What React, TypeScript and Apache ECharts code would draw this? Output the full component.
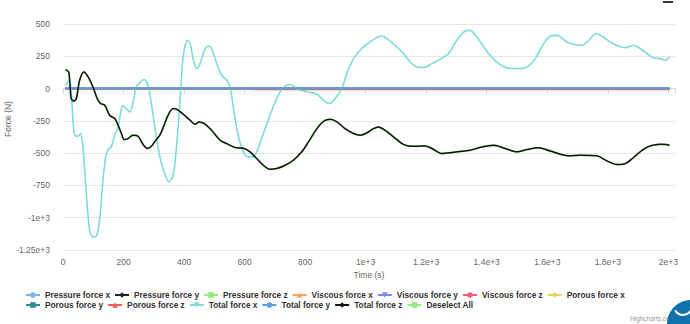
import React, { useEffect, useRef } from "react";
import * as echarts from "echarts";

// ---- data ----
const totalXTime = [8, 22, 33, 39, 50, 58, 66, 77, 88, 99, 110, 121, 132, 141, 149, 160, 171, 182, 191, 198, 209, 220, 231, 242, 257, 268, 279, 292, 305, 320, 334, 350, 364, 375, 386, 397, 411, 420, 431, 442, 453, 467, 480, 491, 508, 524, 541, 552, 566, 580, 596, 613, 629, 640, 662, 690, 717, 734, 750, 765, 783, 811, 839, 861, 880, 899, 921, 938, 960, 987, 1009, 1031, 1053, 1075, 1103, 1125, 1147, 1169, 1191, 1219, 1244, 1274, 1301, 1329, 1345, 1367, 1406, 1439, 1467, 1505, 1533, 1560, 1588, 1610, 1632, 1665, 1687, 1715, 1737, 1762, 1781, 1808, 1836, 1858, 1885, 1907, 1930, 1952, 1974, 1990, 2004];
const totalXForce = [25, 70, -245, -361, -369, -348, -452, -811, -1097, -1148, -1143, -1019, -710, -529, -473, -447, -361, -297, -181, -129, -155, -181, -116, 12, 51, 70, 39, -116, -323, -529, -645, -723, -671, -452, -116, 245, 374, 348, 219, 155, 193, 296, 330, 309, 193, 103, 64, 12, -194, -374, -490, -529, -529, -490, -348, -168, -26, 18, 31, 12, -13, -26, -44, -91, -116, -77, 0, 116, 232, 310, 353, 387, 407, 379, 322, 271, 206, 167, 163, 193, 224, 271, 374, 446, 451, 400, 271, 193, 160, 155, 167, 232, 348, 405, 412, 361, 343, 335, 374, 426, 405, 361, 327, 317, 335, 310, 271, 237, 232, 219, 245];

const totalZTime = [8, 19, 27, 36, 44, 55, 69, 83, 99, 113, 124, 138, 154, 171, 182, 193, 202, 215, 231, 248, 264, 279, 292, 305, 320, 334, 347, 364, 378, 397, 420, 436, 450, 467, 491, 519, 541, 569, 596, 618, 640, 662, 684, 706, 734, 761, 789, 811, 839, 861, 883, 905, 932, 960, 982, 1004, 1026, 1042, 1064, 1092, 1120, 1141, 1169, 1197, 1219, 1252, 1285, 1318, 1345, 1384, 1423, 1461, 1500, 1533, 1571, 1610, 1643, 1670, 1709, 1764, 1797, 1830, 1858, 1885, 1913, 1940, 1974, 1993, 2004];
const totalZForce = [147, 128, -77, -96, -77, 64, 128, 90, 12, -77, -116, -129, -207, -232, -284, -348, -395, -387, -361, -369, -431, -464, -447, -405, -361, -284, -207, -155, -163, -199, -245, -276, -258, -271, -323, -400, -426, -457, -462, -490, -542, -594, -625, -619, -594, -555, -490, -413, -310, -253, -238, -258, -310, -348, -361, -343, -310, -297, -323, -374, -426, -444, -447, -444, -464, -503, -495, -485, -478, -452, -439, -464, -490, -472, -459, -483, -508, -521, -516, -521, -560, -588, -581, -534, -478, -444, -431, -434, -439];

// near-zero components
const flatTime = [8, 500, 1000, 1500, 2004];
const pressureXForce = [3, 3, 3, 3, 3];
const pressureYForce = [0, 0, 0, 0, 0];
const viscousXForce = [1, 1, 1, 1, 1];
const viscousYForce = [0, 0, 0, 0, 0];
const porousXForce = [0, 0, 0, 0, 0];
const porousYForce = [0, 0, 0, 0, 0];
const porousZForce = [-1, -1, -1, -1, -1];
const totalYForce = [2, 2, 2, 2, 2];
const viscousZTime = [8, 600, 640, 2004];
const viscousZForce = [0, 0, -8, -8];

const yTicks = { min: -1250, max: 500, step: 250 };
const xTicks = { min: 0, max: 2022, step: 200 };

const legendRow1 = ["Pressure force x", "Pressure force y", "Pressure force z", "Viscous force x", "Viscous force y", "Viscous force z", "Porous force x"];
const legendRow2 = ["Porous force y", "Porous force z", "Total force x", "Total force y", "Total force z", "Deselect All"];

const TRI_DOWN = "path://M0,0L10,0L5,10Z";
const FONT = "'Liberation Sans', Arial, sans-serif";

function zip(t: number[], v: number[]) {
  return t.map((x, i) => [x, v[i]]);
}

function fmt(v: number) {
  if (Math.abs(v) >= 1000) return v.toExponential();
  return String(v);
}

export default function App() {
  const ref = useRef<HTMLDivElement>(null);
  useEffect(() => {
    if (!ref.current) return;
    const chart = echarts.init(ref.current, undefined, { renderer: "svg" });

    const mk = (name: string, color: string, symbol: string, data: number[][], width = 1.5, smooth: number | boolean = 0.3) => ({
      name,
      type: "line",
      data,
      color,
      symbol,
      symbolSize: 7,
      showSymbol: false,
      smooth,
      lineStyle: { color, width },
      itemStyle: { color },
      emphasis: { disabled: true },
    });

    const legendBase = {
      left: 25,
      itemWidth: 14,
      itemHeight: 7,
      itemGap: 4,
      padding: 0,
      selectedMode: false,
      textStyle: { fontSize: 8.3, fontWeight: "bold", color: "#333", fontFamily: FONT, width: 66 },
    };

    chart.setOption({
      animation: false,
      backgroundColor: "#fff",
      textStyle: { fontFamily: FONT },
      grid: { left: 63, right: 15, top: 24, bottom: 74, containLabel: false },
      legend: [
        { ...legendBase, top: 291, data: legendRow1 },
        { ...legendBase, top: 301, data: legendRow2 },
      ],
      xAxis: {
        type: "value",
        min: xTicks.min,
        max: xTicks.max,
        interval: xTicks.step,
        name: "Time (s)",
        nameLocation: "middle",
        nameGap: 18,
        nameTextStyle: { fontSize: 8.5, color: "#666", fontFamily: FONT },
        axisLine: { show: true, lineStyle: { color: "#ccd6eb" } },
        axisTick: { show: true, length: 5, lineStyle: { color: "#ccd6eb" } },
        axisLabel: { fontSize: 8.5, color: "#666", margin: 7, fontFamily: FONT, formatter: (v: number) => (v > 2000 ? "" : fmt(v)) },
        splitLine: { show: false },
      },
      yAxis: {
        type: "value",
        min: yTicks.min,
        max: yTicks.max,
        interval: yTicks.step,
        axisLine: { show: false },
        axisTick: { show: false },
        axisLabel: { fontSize: 8.5, color: "#666", margin: 13, fontFamily: FONT, formatter: (v: number) => fmt(v) },
        splitLine: { show: true, lineStyle: { color: "#e6e6e6", width: 1 } },
      },
      series: [
        mk("Pressure force x", "#7cb5ec", "circle", zip(flatTime, pressureXForce), 2, false),
        mk("Pressure force y", "#222222", "diamond", zip(flatTime, pressureYForce), 1.5, false),
        mk("Pressure force z", "#90ed7d", "rect", zip(totalZTime, totalZForce), 1.8),
        mk("Viscous force x", "#f7a35c", "triangle", zip(flatTime, viscousXForce), 1.5, false),
        mk("Viscous force y", "#8085e9", TRI_DOWN, zip(flatTime, viscousYForce), 1.5, false),
        mk("Viscous force z", "#f15c80", "circle", zip(viscousZTime, viscousZForce), 1.5, false),
        mk("Porous force x", "#e4d354", "diamond", zip(flatTime, porousXForce), 1.5, false),
        mk("Porous force y", "#2b908f", "rect", zip(flatTime, porousYForce), 1.5, false),
        mk("Porous force z", "#f45b5b", "triangle", zip(flatTime, porousZForce), 1.5, false),
        mk("Total force x", "#7ddcd8", TRI_DOWN, zip(totalXTime, totalXForce), 1.6),
        mk("Total force y", "#5a9ee0", "circle", zip(flatTime, totalYForce), 2, false),
        mk("Total force z", "#111111", "diamond", zip(totalZTime, totalZForce), 1.5),
        mk("Deselect All", "#90ed7d", "rect", []),
      ],
      graphic: [
        {
          type: "text",
          x: 8,
          y: 119,
          rotation: Math.PI / 2,
          style: { text: "Force (N)", fontSize: 8.5, fill: "#666", align: "center", verticalAlign: "middle", fontFamily: FONT },
        },
        {
          type: "text",
          x: 630,
          y: 318,
          style: { text: "Highcharts.com", fontSize: 6.5, fill: "#999", align: "left", verticalAlign: "middle", fontFamily: FONT },
        },
        { type: "circle", shape: { cx: 691, cy: 324, r: 24 }, style: { fill: "#0f72ab" } },
        {
          type: "arc",
          shape: { cx: 683, cy: 306, r: 9, startAngle: 0.5, endAngle: Math.PI - 0.5 },
          style: { stroke: "#fff", lineWidth: 2, fill: "none" },
        },
        { type: "rect", shape: { x: 663, y: 1, width: 10, height: 2 }, style: { fill: "#333" } },
      ],
    });
    return () => chart.dispose();
  }, []);
  return <div ref={ref} style={{ position: "fixed", left: 0, top: 0, width: 690, height: 324 }} />;
}
